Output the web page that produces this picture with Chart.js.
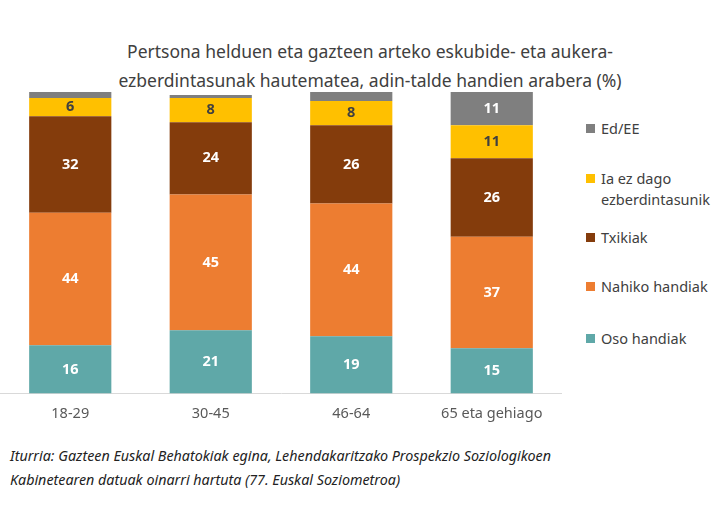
<!DOCTYPE html>
<html><head><meta charset="utf-8">
<script src="https://cdn.jsdelivr.net/npm/chart.js@4"></script>
<style>
body{margin:0;background:#fff;font-family:"Noto Sans","Open Sans",sans-serif;width:727px;height:509px;position:relative;overflow:hidden}
#title{position:absolute;left:40px;width:660px;top:37px;text-align:center;font-size:17.5px;line-height:29px;color:#404040}
#wrap{position:absolute;left:0;top:82px;width:562px;height:353px}
#legend{position:absolute;left:586px;top:0;font-size:14.5px;color:#404040}
.li{position:absolute;left:0;white-space:nowrap;line-height:21px}
.li span{display:inline-block;width:9px;height:9px;margin-right:6px;vertical-align:1px}
#src{position:absolute;left:10px;top:444px;font-style:italic;font-size:14.3px;line-height:24px;color:#222}
</style></head><body>
<div id="title">Pertsona helduen eta gazteen arteko eskubide- eta aukera-<br>ezberdintasunak hautematea, adin-talde handien arabera (%)</div>
<div id="wrap"><canvas id="c"></canvas></div>
<div id="legend"></div>
<div id="src">Iturria: Gazteen Euskal Behatokiak egina, Lehendakaritzako Prospekzio Soziologikoen<br>Kabinetearen datuak oinarri hartuta (77. Euskal Soziometroa)</div>
<script>
const categories = ['18-29', '30-45', '46-64', '65 eta gehiago'];
const osoHandiak = [16, 21, 19, 15];
const nahikoHandiak = [44, 45, 44, 37];
const txikiak = [32, 24, 26, 26];
const iaEzDago = [6, 8, 8, 11];
const edEE = [2, 1, 3, 11];

const series = [
    { label: 'Oso handiak', data: osoHandiak, color: '#5fa8a8', text: '#fff' },
    { label: 'Nahiko handiak', data: nahikoHandiak, color: '#ed7d31', text: '#fff' },
    { label: 'Txikiak', data: txikiak, color: '#843c0c', text: '#fff' },
    { label: 'Ia ez dago\nezberdintasunik', data: iaEzDago, color: '#ffc000', text: '#404040' },
    { label: 'Ed/EE', data: edEE, color: '#7f7f7f', text: '#fff' }
];

// etiketak barren barruan
const etiketak = {
    id: 'etiketak',
    afterDatasetsDraw(chart) {
        const ctx = chart.ctx;
        ctx.save();
        ctx.font = 'bold 14.5px "Noto Sans", sans-serif';
        ctx.textAlign = 'center';
        ctx.textBaseline = 'middle';
        chart.data.datasets.forEach((ds, i) => {
            chart.getDatasetMeta(i).data.forEach((bar, j) => {
                const v = ds.data[j];
                if (v < 5) return;
                ctx.fillStyle = series[i].text;
                ctx.fillText(v, bar.x, (bar.y + bar.base) / 2);
            });
        });
        ctx.restore();
    }
};

new Chart(document.getElementById('c'), {
    type: 'bar',
    data: {
        labels: categories,
        datasets: series.map(s => ({ label: s.label, data: s.data, backgroundColor: s.color }))
    },
    options: {
        responsive: true,
        maintainAspectRatio: false,
        animation: false,
        categoryPercentage: 1,
        barPercentage: 0.585,
        layout: { padding: { top: 10, left: 0, right: 0, bottom: 0 } },
        plugins: { legend: { display: false }, tooltip: { enabled: false } },
        scales: {
            x: {
                stacked: true,
                grid: { display: false, drawTicks: false },
                border: { color: '#d9d9d9' },
                ticks: { color: '#595959', font: { size: 14.5, family: '"Noto Sans", sans-serif' }, padding: 12 }
            },
            y: { stacked: true, min: 0, max: 100, display: false }
        }
    },
    plugins: [etiketak]
});

// legenda eskuinean
const legendTops = [36, 86, 145, 194, 246];
const leg = document.getElementById('legend');
series.slice().reverse().forEach((s, i) => {
    const d = document.createElement('div');
    d.className = 'li';
    d.style.top = (82 + legendTops[i]) + 'px';
    const lines = s.label.split('\n');
    d.innerHTML = '<span style="background:' + s.color + '"></span>' + lines[0] +
        (lines[1] ? '<br><span style="background:none"></span>' + lines[1] : '');
    leg.appendChild(d);
});
</script>
</body></html>
